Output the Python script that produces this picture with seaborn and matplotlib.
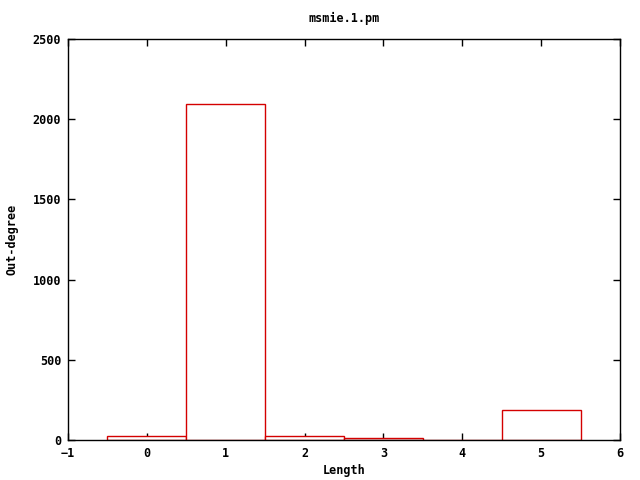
import pandas as pd
import seaborn as sns
import matplotlib.pyplot as plt

# data
lengths = [0, 1, 2, 3, 4, 5]
outdeg = [25, 2092, 25, 11, 0, 186]

df = pd.DataFrame({"Length": lengths, "Out-degree": outdeg})

sns.set_style("ticks", {"axes.edgecolor": "black", "text.color": "black",
                        "xtick.color": "black", "ytick.color": "black",
                        "axes.labelcolor": "black"})
plt.rcParams['font.family'] = ['DejaVu Sans Mono']
plt.rcParams['font.weight'] = 'bold'

fig = plt.figure(figsize=(6.4, 4.8), dpi=100)
ax = fig.add_axes([0.1063, 0.0833, 0.8625, 0.8354])

sns.barplot(data=df, x="Length", y="Out-degree", native_scale=True, width=1,
            facecolor="white", edgecolor="#d40000", linewidth=1, ax=ax)

ax.set_xlim(-1, 6)
ax.set_ylim(0, 2500)
ax.set_xticks(range(-1, 7))
ax.set_yticks(range(0, 2501, 500))
ax.tick_params(direction="in", length=5, width=1, top=True, right=True, labelsize=8.5)
ax.tick_params(axis="x", pad=5)
ax.tick_params(axis="y", pad=5)
for s in ax.spines.values():
    s.set_linewidth(1)
ax.set_title("msmie.1.pm", fontsize=8.5, fontweight="bold", pad=12)
ax.set_xlabel("Length", fontsize=8.5, fontweight="bold", labelpad=3)
ax.set_ylabel("Out-degree", fontsize=8.5, fontweight="bold", labelpad=10)

plt.savefig("out.png", dpi=100)
